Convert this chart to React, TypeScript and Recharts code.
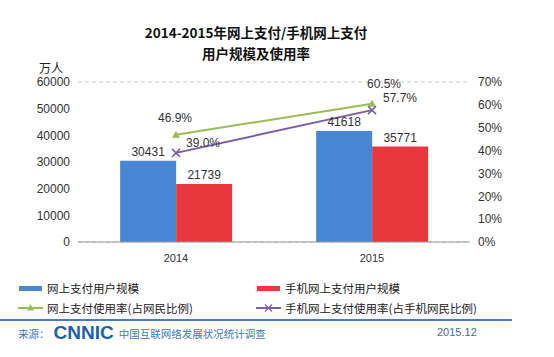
import React from 'react';
import {
	ComposedChart,
	Bar,
	Line,
	XAxis,
	YAxis,
	CartesianGrid,
	LabelList
} from 'recharts';

const years = ['2014', '2015'];
const payUsers = [30431, 41618];
const mobilePayUsers = [21739, 35771];
const payRate = [46.9, 60.5];
const mobilePayRate = [39.0, 57.7];
const leftTicks = [0, 10000, 20000, 30000, 40000, 50000, 60000];
const rightTicks = [0, 10, 20, 30, 40, 50, 60, 70];

const data = years.map((year, i) => ({
	year,
	payUsers: payUsers[i],
	mobilePayUsers: mobilePayUsers[i],
	payRate: payRate[i],
	mobilePayRate: mobilePayRate[i]
}));

const BLUE = '#4a86d6';
const RED = '#e8383d';
const GREEN = '#9bbb59';
const PURPLE = '#7b5ea8';
const CJK = '"Noto Sans CJK SC", "Microsoft YaHei", sans-serif';
const LATIN = '"Liberation Sans", Arial, sans-serif';

// label offsets relative to the point, per index
const greenOffsets = [
	{ dx: -1, dy: -17 },
	{ dx: 12, dy: -20 }
];
const purpleOffsets = [
	{ dx: 27, dy: -10 },
	{ dx: 28, dy: -12 }
];

const makeRateLabel = (offsets: { dx: number; dy: number }[]) => (props: any) => {
	const { x, y, value, index } = props;
	const o = offsets[index] || { dx: 0, dy: -12 };
	return (
		<text
			x={x + o.dx}
			y={y + o.dy}
			textAnchor="middle"
			dominantBaseline="central"
			fontSize={12}
			fontFamily={LATIN}
			fill="#333"
		>
			{Number(value).toFixed(1)}%
		</text>
	);
};

const Triangle = (props: any) => {
	const { cx, cy } = props;
	if (cx == null || cy == null) return null;
	return <path d={`M${cx},${cy - 4}L${cx + 4},${cy + 3}L${cx - 4},${cy + 3}Z`} fill={GREEN} />;
};

const Cross = (props: any) => {
	const { cx, cy } = props;
	if (cx == null || cy == null) return null;
	return (
		<path
			d={`M${cx - 4},${cy - 4}L${cx + 4},${cy + 4}M${cx - 4},${cy + 4}L${cx + 4},${cy - 4}`}
			stroke={PURPLE}
			strokeWidth={1.5}
		/>
	);
};

const legendItems = [
	{ label: '网上支付用户规模', color: BLUE, kind: 'bar' },
	{ label: '手机网上支付用户规模', color: RED, kind: 'bar' },
	{ label: '网上支付使用率(占网民比例)', color: GREEN, kind: 'tri' },
	{ label: '手机网上支付使用率(占手机网民比例)', color: PURPLE, kind: 'cross' }
];

const LegendIcon = ({ color, kind }: { color: string; kind: string }) => (
	<svg width={26} height={12} style={{ marginRight: 3 }}>
		{kind === 'bar' ? (
			<rect x={1} y={4} width={23} height={5} fill={color} />
		) : (
			<>
				<line x1={0} y1={6} x2={25} y2={6} stroke={color} strokeWidth={2} />
				{kind === 'tri' ? (
					<path d="M12.5,2L16,8.5L9,8.5Z" fill={color} />
				) : (
					<path d="M9,2.5L16,9.5M9,9.5L16,2.5" stroke={color} strokeWidth={1.2} />
				)}
			</>
		)}
	</svg>
);

const App: React.FC = () => {
	return (
		<div
			style={{
				position: 'absolute',
				left: 0,
				top: 0,
				width: 554,
				height: 357,
				background: '#fff',
				fontFamily: CJK,
				overflow: 'hidden'
			}}
		>
			<div
				style={{
					position: 'absolute',
					top: 22,
					left: 0,
					width: 512,
					textAlign: 'center',
					fontSize: 13.5,
					fontWeight: 'bold',
					lineHeight: '21px',
					color: '#111'
				}}
			>
				2014-2015年网上支付/手机网上支付
				<br />
				用户规模及使用率
			</div>
			<div style={{ position: 'absolute', left: 39, top: 59, fontSize: 12, color: '#222' }}>万人</div>

			<ComposedChart
				width={554}
				height={357}
				data={data}
				margin={{ top: 82, right: 40, bottom: 85, left: 10 }}
				barGap={0}
				barCategoryGap="21.5%"
			>
				<CartesianGrid vertical={false} stroke="#c8c8c8" strokeDasharray="4 3" />
				<XAxis
					dataKey="year"
					height={30}
					tickLine={false}
					axisLine={{ stroke: '#999' }}
					tick={{ fontSize: 11, fill: '#333', fontFamily: LATIN }}
					tickMargin={6}
				/>
				<YAxis
					yAxisId="left"
					width={68}
					domain={[0, 60000]}
					ticks={leftTicks}
					interval={0}
					axisLine={false}
					tickLine={false}
					tick={{ fontSize: 12, fill: '#333', fontFamily: LATIN }}
				/>
				<YAxis
					yAxisId="right"
					orientation="right"
					width={44}
					domain={[0, 70]}
					ticks={rightTicks}
					interval={0}
					tickFormatter={(v) => `${v}%`}
					axisLine={false}
					tickLine={false}
					tick={{ fontSize: 12, fill: '#333', fontFamily: LATIN }}
				/>
				<Bar yAxisId="left" dataKey="payUsers" fill={BLUE} isAnimationActive={false}>
					<LabelList
						dataKey="payUsers"
						position="top"
						offset={5}
						style={{ fontSize: 12, fill: '#333', fontFamily: LATIN }}
					/>
				</Bar>
				<Bar yAxisId="left" dataKey="mobilePayUsers" fill={RED} isAnimationActive={false}>
					<LabelList
						dataKey="mobilePayUsers"
						position="top"
						offset={5}
						style={{ fontSize: 12, fill: '#333', fontFamily: LATIN }}
					/>
				</Bar>
				<Line
					yAxisId="right"
					dataKey="payRate"
					stroke={GREEN}
					strokeWidth={2}
					dot={<Triangle />}
					activeDot={false}
					isAnimationActive={false}
				>
					<LabelList dataKey="payRate" content={makeRateLabel(greenOffsets)} />
				</Line>
				<Line
					yAxisId="right"
					dataKey="mobilePayRate"
					stroke={PURPLE}
					strokeWidth={2}
					dot={<Cross />}
					activeDot={false}
					isAnimationActive={false}
				>
					<LabelList dataKey="mobilePayRate" content={makeRateLabel(purpleOffsets)} />
				</Line>
			</ComposedChart>

			{legendItems.map((item, i) => (
				<div
					key={item.label}
					style={{
						position: 'absolute',
						left: i % 2 === 0 ? 18 : 256,
						top: i < 2 ? 280 : 300,
						display: 'flex',
						alignItems: 'center',
						fontSize: 11.5,
						color: '#222',
						whiteSpace: 'nowrap'
					}}
				>
					<LegendIcon color={item.color} kind={item.kind} />
					{item.label}
				</div>
			))}

			<div
				style={{
					position: 'absolute',
					left: 0,
					top: 319,
					width: 512,
					height: 2,
					background: '#4a7ebb'
				}}
			/>
			<div
				style={{
					position: 'absolute',
					left: 18,
					top: 324,
					display: 'flex',
					alignItems: 'center',
					whiteSpace: 'nowrap'
				}}
			>
				<span style={{ fontSize: 10.5, color: '#3a78c2', marginRight: 4 }}>来源：</span>
				<span
					style={{
						fontFamily: LATIN,
						fontWeight: 'bold',
						fontSize: 19,
						color: '#1c5fb0',
						lineHeight: '18px',
						marginRight: 5
					}}
				>
					CNNIC
				</span>
				<span style={{ fontSize: 10.5, color: '#3a78c2' }}>中国互联网络发展状况统计调查</span>
			</div>
			<div
				style={{
					position: 'absolute',
					left: 437,
					top: 326,
					fontSize: 11,
					fontFamily: LATIN,
					color: '#4a6a9a'
				}}
			>
				2015.12
			</div>
		</div>
	);
};

export default App;
